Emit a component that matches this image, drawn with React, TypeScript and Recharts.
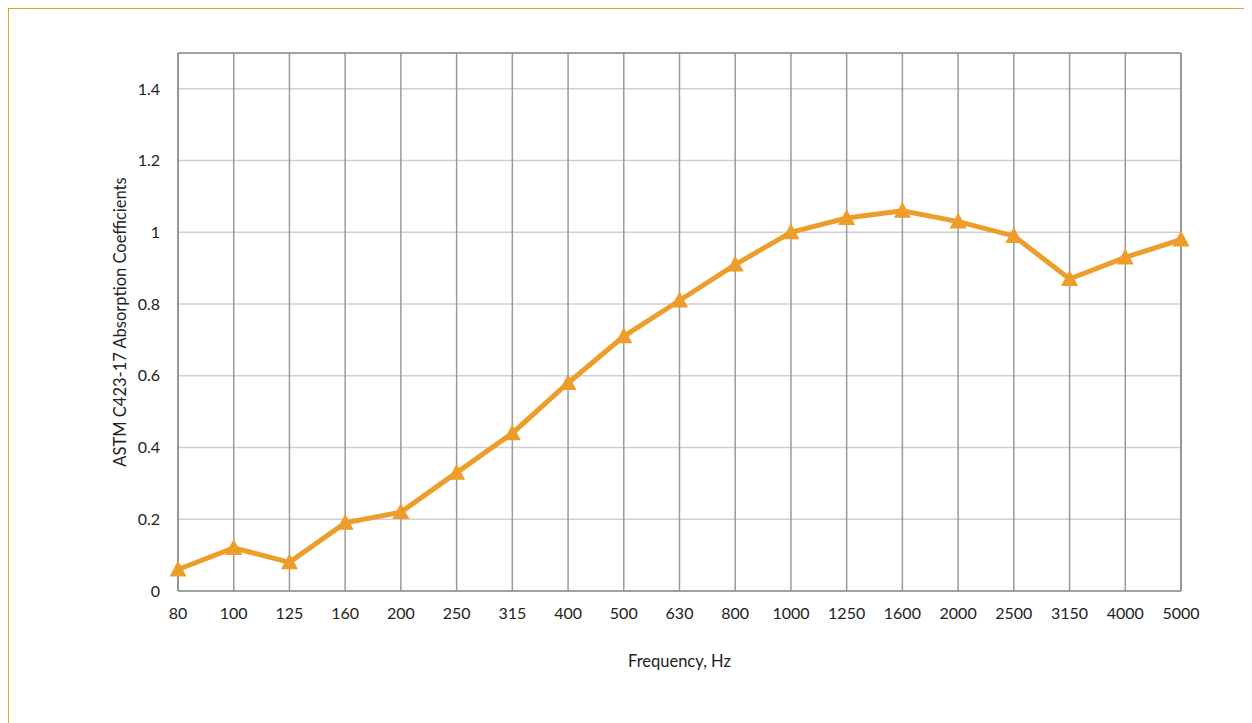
import {
  CartesianGrid,
  Line,
  LineChart,
  ReferenceLine,
  XAxis,
  YAxis,
} from "recharts";

const frequencies = [
  "80", "100", "125", "160", "200", "250", "315", "400", "500", "630",
  "800", "1000", "1250", "1600", "2000", "2500", "3150", "4000", "5000",
];
const coefficients = [
  0.06, 0.12, 0.08, 0.19, 0.22, 0.33, 0.44, 0.58, 0.71, 0.81,
  0.91, 1.0, 1.04, 1.06, 1.03, 0.99, 0.87, 0.93, 0.98,
];
const yTicks = [0, 0.2, 0.4, 0.6, 0.8, 1, 1.2, 1.4];

const data = frequencies.map((f, i) => ({ freq: f, value: coefficients[i] }));

const ORANGE = "#ED9D29";
const FONT = "Lato, 'Noto Sans', sans-serif";
const tickStyle = { fill: "#222", fontSize: 16, fontFamily: FONT };
const labelStyle = { fill: "#222", fontSize: 16.5, fontFamily: FONT };

function Triangle(props: any) {
  const { cx, cy } = props;
  if (cx == null || cy == null) return null;
  return (
    <polygon
      points={`${cx},${cy - 9} ${cx - 8.5},${cy + 7} ${cx + 8.5},${cy + 7}`}
      fill={ORANGE}
    />
  );
}

export default function App() {
  return (
    <div
      style={{
        width: 1243,
        height: 714,
        borderTop: `1px solid ${ORANGE}`,
        borderLeft: `1px solid ${ORANGE}`,
        background: "#fff",
      }}
    >
      <LineChart
        width={1243}
        height={714}
        data={data}
        margin={{ top: 44, right: 71, bottom: 52, left: 0 }}
      >
        <CartesianGrid vertical={false} stroke="#cfcfcf" strokeWidth={1.5} />
        <CartesianGrid horizontal={false} stroke="#9a9a9a" strokeWidth={1.5} />
        <XAxis
          dataKey="freq"
          height={80}
          tick={tickStyle}
          tickLine={false}
          tickSize={5}
          tickMargin={12}
          axisLine={{ stroke: "#8c8c8c", strokeWidth: 1.5 }}
          label={{
            value: "Frequency, Hz",
            position: "insideBottom",
            offset: 4,
            style: labelStyle,
          }}
        />
        <YAxis
          width={169}
          domain={[0, 1.5]}
          ticks={yTicks}
          tick={tickStyle}
          tickLine={false}
          tickSize={8}
          tickMargin={10}
          axisLine={{ stroke: "#8c8c8c", strokeWidth: 1.5 }}
          label={{
            value: "ASTM C423-17 Absorption Coefficients",
            angle: -90,
            position: "insideLeft",
            offset: 111,
            style: { ...labelStyle, textAnchor: "middle" },
          }}
        />
        <ReferenceLine y={1.5} stroke="#8c8c8c" strokeWidth={1.5} />
        <ReferenceLine x="5000" stroke="#8c8c8c" strokeWidth={1.5} />
        <Line
          type="linear"
          dataKey="value"
          stroke={ORANGE}
          strokeWidth={5}
          dot={<Triangle />}
          activeDot={false}
          isAnimationActive={false}
        />
      </LineChart>
    </div>
  );
}
